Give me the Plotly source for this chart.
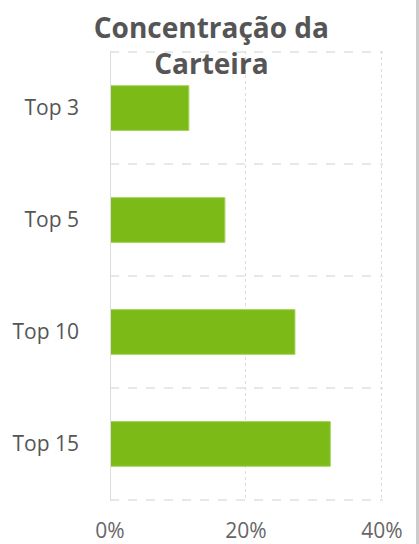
import plotly.graph_objects as go

# Concentração da carteira (percentual acumulado dos maiores ativos)
categorias = ['Top 3', 'Top 5', 'Top 10', 'Top 15']
concentracao = [11.6, 16.9, 27.2, 32.4]
ticks_x = [0, 20, 40]

posicoes = list(range(len(categorias)))
limites = [p - 0.5 for p in posicoes] + [posicoes[-1] + 0.5]

fig = go.Figure(go.Bar(
    x=concentracao,
    y=posicoes,
    orientation='h',
    width=0.4,
    marker=dict(color='#7cbb17', line=dict(color='#a6d45e', width=1)),
    hoverinfo='skip',
))

fig.update_layout(
    width=419, height=544,
    margin=dict(l=110, r=36, t=51, b=43),
    paper_bgcolor='white', plot_bgcolor='white',
    font=dict(family='Open Sans', color='#666666', size=20),
    title=dict(text='Concentração da<br>Carteira', x=0.5045, xref='container', xanchor='center',
               y=0.931, yref='container', yanchor='top',
               font=dict(family='Open Sans', size=28, color='#555555', weight='bold')),
    showlegend=False,
)

fig.update_xaxes(
    range=[0, 40.15], tickvals=ticks_x, ticktext=[f'{v}%' for v in ticks_x],
    showgrid=True, gridcolor='#dddddd', griddash='dot', gridwidth=1,
    zeroline=False, showline=False, ticks='', ticklabelstandoff=15,
    tickfont=dict(size=21, color='#666666'), automargin=False,
)

fig.update_yaxes(
    range=[limites[-1] + 0.01, limites[0] - 0.01], tickvals=posicoes, ticktext=categorias,
    showgrid=False, zeroline=False, showline=False, ticks='', ticklabelstandoff=30,
    tickfont=dict(size=21, color='#555555'), automargin=False,
    minor=dict(tickvals=limites, showgrid=True, gridcolor='#e8e8e8', griddash='dash', gridwidth=2),
)

# eixo 0% sólido e borda direita do cartão
fig.add_shape(type='line', xref='x', yref='paper', x0=0, x1=0, y0=0, y1=1,
              line=dict(color='#dddddd', width=2))
fig.add_shape(type='rect', xref='paper', yref='paper', x0=1.121, x1=1.136, y0=-0.2, y1=1.2,
              line=dict(width=0), fillcolor='#cccccc', layer='above')

# sem margem no body para a figura ocupar a janela inteira
fig.write_html("out.html", config={'displayModeBar': False},
               post_script="document.body.style.margin = '0';")
